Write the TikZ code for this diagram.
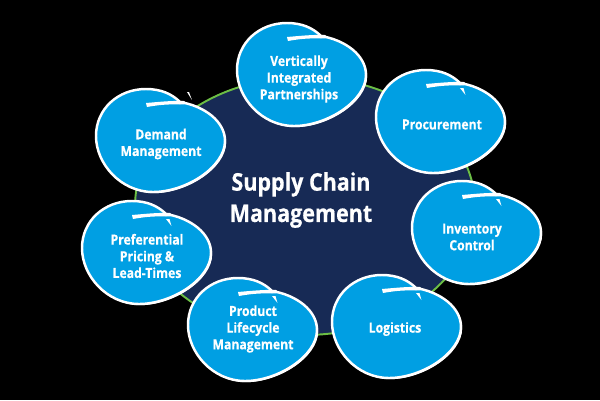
\documentclass[tikz,border=0pt]{standalone}
\usepackage{fontspec}
\setmainfont{Open Sans}
\newfontfamily\narrowfont[FakeStretch=0.88,BoldFeatures={FakeBold=0.4}]{Open Sans}
\usepackage{xcolor}
\usetikzlibrary{shapes.geometric}
\definecolor{blobblue}{HTML}{009FE3}
\definecolor{hubnavy}{HTML}{172A55}
\definecolor{ringgreen}{HTML}{6CBE45}
\def\blobpath{(84,13) .. controls (108,17) and (129,32) .. (129,52)
  .. controls (129,78) and (90,103) .. (57,103) .. controls (25,103) and (0,75) .. (0,47)
  .. controls (0,20) and (22,0) .. (50,0) .. controls (65,0) and (76,5) .. (84,13) -- cycle}
\tikzset{
  blobtext/.style={text=white,font=\narrowfont\fontsize{7.9}{9.5}\selectfont\bfseries,align=center},
  pics/blob/.style={code={
    \fill[white,shift={(1.2,1.2)}] \blobpath;
    \draw[white,line width=1.4pt,fill=blobblue] \blobpath;
    \fill[white] (50,14) .. controls (62,13) and (75,11.5) .. (88,12) -- (92,15) -- (84,15.5)
      .. controls (72,15) and (62,16) .. (51,18) -- cycle;
  }},
  pics/bloctick/.style={code={
    \fill[white] (84,18) -- (87.5,18) -- (89.5,25) -- cycle;
  }}
}
\begin{document}
\begin{tikzpicture}[x=0.02cm,y=-0.02cm]
\fill[black] (0,0) rectangle (600,400);
\useasboundingbox (0,0) rectangle (600,400);
% centre
\node[ellipse,draw=ringgreen,fill=hubnavy,line width=1.1pt,minimum width=6.8cm,minimum height=5.16cm,inner sep=0pt] (hub) at (305,206) {};
\node[text=white,font=\narrowfont\fontsize{13.9}{17.8}\selectfont\bfseries,align=center] (title) at (301,200) {Supply Chain\\Management};
% blobs
\pic at (237,23) {blob};
\pic at (376,70) {blob};
\pic at (376,70) {bloctick};
\pic at (412,181) {blob};
\pic at (412,181) {bloctick};
\pic at (332,275) {blob};
\pic at (332,275) {bloctick};
\pic at (188,278) {blob};
\pic at (188,278) {bloctick};
\pic at (82,201) {blob};
\pic at (82,201) {bloctick};
\pic at (96,89) {blob};
\fill[white] (187,92) -- (189,92) -- (192,100) -- cycle;
% labels
\node[blobtext] (partners) at (299,79) {Vertically\\Integrated\\Partnerships};
\node[blobtext] (procure) at (442,124.5) {Procurement};
\node[blobtext] (inventory) at (472,237) {Inventory\\Control};
\node[blobtext] (logistics) at (395,329) {Logistics};
\node[blobtext] (lifecycle) at (253,329) {Product\\Lifecycle\\Management};
\node[blobtext] (pricing) at (147,256) {Preferential\\Pricing \&\\Lead-Times};
\node[blobtext] (demand) at (161,144) {Demand\\Management};
\end{tikzpicture}
\end{document}
